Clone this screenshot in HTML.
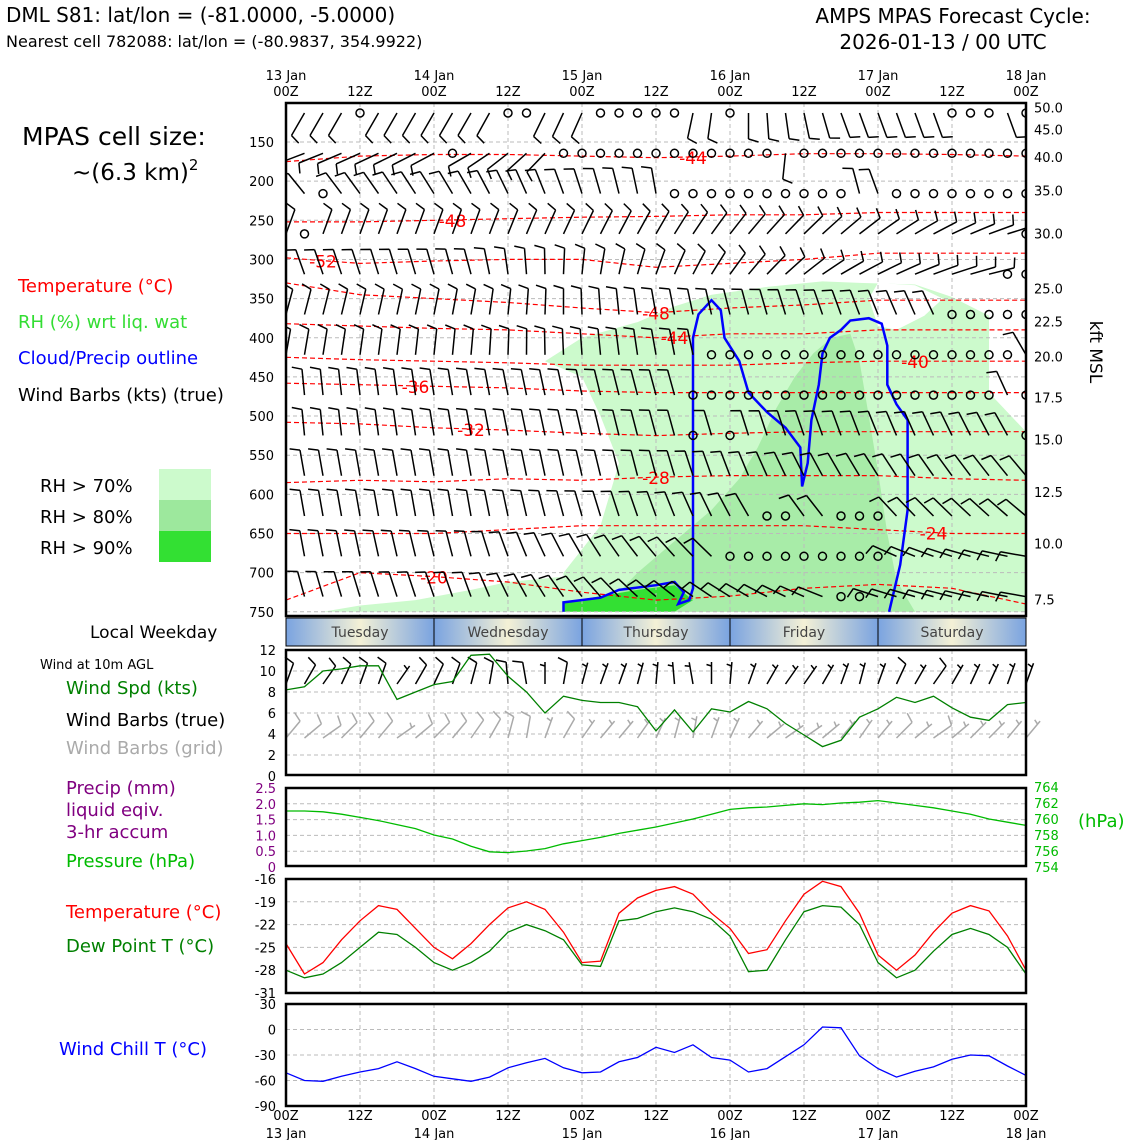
<!DOCTYPE html>
<html><head><meta charset="utf-8"><style>
html,body{margin:0;padding:0;background:#fff;}
svg{display:block;font-family:"DejaVu Sans","Liberation Sans",sans-serif;}
</style></head><body>
<svg id="chart" width="1140" height="1140" viewBox="0 0 1140 1140" xmlns="http://www.w3.org/2000/svg">
<defs>
<linearGradient id="dayg" x1="0" x2="1" y1="0" y2="0">
<stop offset="0" stop-color="#7aa3e0"/><stop offset="0.5" stop-color="#f4f1d6"/><stop offset="1" stop-color="#7aa3e0"/>
</linearGradient>
</defs>
<g>
<text x="6" y="22" font-size="20">DML S81: lat/lon = (-81.0000, -5.0000)</text>
<text x="6" y="47" font-size="16">Nearest cell 782088: lat/lon = (-80.9837, 354.9922)</text>
<text x="953" y="23" font-size="20" text-anchor="middle">AMPS MPAS Forecast Cycle:</text>
<text x="943" y="49" font-size="20" text-anchor="middle">2026-01-13 / 00 UTC</text>
</g>
<g font-size="18">
<text x="22" y="145" font-size="25">MPAS cell size:</text>
<text x="72" y="180" font-size="23">~(6.3 km)<tspan dy="-10" font-size="15">2</tspan></text>
<text x="18" y="292" fill="#ff0000">Temperature (°C)</text>
<text x="18" y="328" fill="#33dd33">RH (%) wrt liq. wat</text>
<text x="18" y="364" fill="#0000ff">Cloud/Precip outline</text>
<text x="18" y="401">Wind Barbs (kts) (true)</text>
<text x="40" y="492">RH &gt; 70%</text>
<text x="40" y="523">RH &gt; 80%</text>
<text x="40" y="554">RH &gt; 90%</text>
<rect x="159" y="469" width="52" height="31" fill="#ccfacc"/>
<rect x="159" y="500" width="52" height="31" fill="#9de89d"/>
<rect x="159" y="531" width="52" height="31" fill="#33e033"/>
<text x="90" y="638" font-size="17">Local Weekday</text>
<text x="40" y="669" font-size="13">Wind at 10m AGL</text>
<text x="66" y="694" fill="#008000">Wind Spd (kts)</text>
<text x="66" y="726">Wind Barbs (true)</text>
<text x="66" y="754" fill="#aaaaaa">Wind Barbs (grid)</text>
<text x="66" y="794" fill="#800080">Precip (mm)</text>
<text x="66" y="816" fill="#800080">liquid eqiv.</text>
<text x="66" y="838" fill="#800080">3-hr accum</text>
<text x="66" y="867" fill="#00bb00">Pressure (hPa)</text>
<text x="66" y="918" fill="#ff0000">Temperature (°C)</text>
<text x="66" y="952" fill="#008000">Dew Point T (°C)</text>
<text x="59" y="1055" fill="#0000ff">Wind Chill T (°C)</text>
<text x="1078" y="827" fill="#00bb00">(hPa)</text>
<text x="1090" y="352" font-size="17" transform="rotate(90 1090 352)" text-anchor="middle">kft MSL</text>
</g>
<g id="main"></g>
<g id="panels"></g>
</svg>
<script>
// ---------- data ----------
const times = ["00Z","12Z","00Z","12Z","00Z","12Z","00Z","12Z","00Z","12Z","00Z"];
const dates = ["13 Jan","","14 Jan","","15 Jan","","16 Jan","","17 Jan","","18 Jan"];
const weekdays = ["Tuesday","Wednesday","Thursday","Friday","Saturday"];
const pLevels = [150,200,250,300,350,400,450,500,550,600,650,700,750];
const kftLabels = ["50.0","45.0","40.0","35.0","30.0","25.0","22.5","20.0","17.5","15.0","12.5","10.0","7.5"];
const kftPress = [106,134,169,212,267,337,379,424,476,530,597,663,734];
const windSpd = [8.2,8.5,10,10.2,10.5,10.5,7.3,8,8.7,9,11.5,11.6,9.5,8,6,7.6,7.2,7,7,6.6,4.3,6.3,4.2,6.4,6.1,7.1,6.4,5,3.9,2.8,3.4,5.6,6.4,7.5,7,7.6,6.5,5.6,5.3,6.8,7];
const pressure = [761,761,760.9,760.6,760.2,759.8,759.3,758.8,758,757.5,756.6,755.9,755.8,756,756.3,756.9,757.3,757.7,758.2,758.6,759,759.5,760,760.6,761.2,761.4,761.5,761.7,761.9,761.8,762,762.1,762.3,762,761.7,761.4,761,760.6,760,759.6,759.2];
const precip = [0,0,0,0,0,0,0,0,0,0,0,0,0,0,0,0,0,0,0,0,0,0,0.03,0.03,0,0,0,0,0,0,0,0,0,0,0,0,0,0,0,0,0];
const tempC = [-24.5,-28.5,-27,-24,-21.5,-19.5,-20,-22.5,-25,-26.5,-24.5,-22,-19.8,-19,-20,-23,-27,-26.8,-20.5,-18.5,-17.5,-17,-18,-20.5,-22.5,-25.8,-25.3,-21.5,-18,-16.3,-17,-20.5,-26,-28,-26,-23,-20.5,-19.5,-20.2,-23.5,-28];
const dewC = [-28,-29,-28.5,-27,-25,-23,-23.3,-25,-27,-28,-27,-25.5,-23,-22,-22.8,-24,-27.3,-27.5,-21.5,-21.2,-20.3,-19.8,-20.3,-21.3,-23.5,-28.2,-28,-24,-20.3,-19.5,-19.7,-22,-27,-29,-28,-25.5,-23.3,-22.5,-23.3,-25,-28.5];
const windChill = [-51,-60,-61,-55,-50,-46,-38,-46,-55,-58,-61,-56,-45,-39,-34,-45,-51,-50,-38,-33,-21,-27,-18,-33,-36,-50,-46,-32,-18,3,2,-31,-46,-56,-49,-44,-35,-30,-31,-43,-54];
const contourVals = [-44,-48,-52,-48,-44,-40,-36,-32,-28,-24,-20];
const contourP = [
 [175,168,166,166,168,170,168,165,165,166,168],
 [252,252,250,248,246,245,243,243,240,240,240],
 [298,305,302,300,300,310,305,300,292,292,292],
 [330,345,350,355,362,368,362,358,352,352,352],
 [382,385,388,390,395,400,395,395,390,390,390],
 [425,428,430,432,435,435,435,432,430,430,430],
 [458,460,462,464,468,470,470,470,470,470,470],
 [508,510,515,518,522,525,522,520,520,520,520],
 [585,582,584,580,582,578,576,576,576,580,582],
 [650,650,650,645,640,640,640,640,645,650,650],
 [735,700,705,712,725,735,730,720,715,720,740]
];
const contourLabelIdx = [22,9,2,20,21,34,7,10,20,35,8];
const rh70 = [[15,750],[15,700],[17,640],[18,560],[17,500],[16,450],[14,430],[16,400],[19,380],[21,360],[23,345],[26,335],[29,328],[31,330],[34,332],[36,348],[38,372],[38,470],[40,520],[40,750]];
const rh70b = [[2,750],[4,742],[7,735],[10,722],[12,712],[15,705],[15,750]];
const rh80 = [[17,750],[19,700],[21,660],[23,620],[24.5,580],[25.5,540],[26.5,490],[27.5,450],[28.5,420],[29.5,400],[30.5,395],[31,430],[31.5,500],[32,570],[32.5,650],[33,710],[34,750]];
const rh90 = [[15,750],[15,738],[17,730],[19,722],[21,716],[22,735],[21,750]];
const cloudLine = [[15,750],[15,738],[17,732],[18,722],[20,716],[21,712],[21.5,725],[21.2,740],[21.8,735],[22,720],[22,640],[22,520],[22,400],[22.3,370],[23,352],[23.5,365],[23.7,400],[24.5,430],[25,470],[26,495],[27,515],[27.8,540],[27.9,590],[28.2,560],[28.4,505],[28.8,460],[29,420],[29.4,400],[30,390],[30.5,378],[31.5,375],[32.2,382],[32.5,410],[32.5,460],[33,485],[33.6,505],[33.6,620],[33.2,690],[32.6,750]];
const barbRowAngle = [
 [210,210,200,160,160],[250,240,200,180,180],[320,330,350,350,300],[20,20,30,50,75],
 [340,345,20,60,80],[15,10,350,340,330],[10,5,350,340,330],[355,350,345,340,335],
 [355,350,345,340,330],[350,350,345,330,320],[350,350,340,320,310],[350,345,320,300,280],[345,340,310,290,280]];
const barbRowSpeed = [10,10,10,10,10,10,10,10,10,10,10,10,10];
const calm = [
 [4,12,13,17,18,19,20,21,24,36,37,38,40],
 [9,15,16,17,18,19,20,21,22,23,24,25,26,28,29,30,31,32,33,34,35,36,37,38,39,40],
 [2,21,22,23,24,25,26,27,28,29,30,33,34,35,36,37,38,39,40],
 [1,40],[39,40],[36,37,38,39,40],
 [23,24,25,26,27,28,29,30,31,32,33,34,35,36,37,38,39],
 [22,23,24,25,26,27,28,29,30,31,32,33,34,35,36,37,38,40],
 [22,24,40],[],[26,27,30,31,32],[24,25,26,27,28,29,30,31,32],[30,31]];
const sfcBarbAngle = [200,210,215,205,200,200,215,210,205,200,195,190,175,170,180,190,195,200,200,195,185,175,170,180,185,200,210,215,215,210,200,195,200,205,210,215,210,205,205,200,200];
// ---------- axes ----------
const NS="http://www.w3.org/2000/svg";
const X0=286,X1=1026;
const xT = i => X0 + i*(X1-X0)/40;
const yP = p => 142 + (p-150)*0.783;
const yWind = v => 776 - v*(126/12);
const yPres = v => 867 - (v-754)*8;
const yPrec = v => 867 - v*(79/2.5);
const yTemp = v => 879 + (-16-v)*(114/15);
const yChill = v => 1004 + (30-v)*(102/120);
function mk(parent,tag,attrs){const e=document.createElementNS(NS,tag);for(const k in attrs)e.setAttribute(k,attrs[k]);parent.appendChild(e);return e;}
const main=document.getElementById('main');
const panels=document.getElementById('panels');
const pts=(arr,fx,fy)=>arr.map(a=>fx(a[0]).toFixed(1)+","+fy(a[1]).toFixed(1)).join(" ");
const cp=mk(document.querySelector('defs'),'clipPath',{id:'mclip'});
mk(cp,'rect',{x:X0,y:103,width:X1-X0,height:513});
const mg=mk(main,'g',{'clip-path':'url(#mclip)'});


[[rh70,'#ccfacc','rh70-region'],[rh70b,'#ccfacc','rh70-region-low'],[rh80,'#a8eca8','rh80-region'],[rh90,'#33e033','rh90-region']].forEach(r=>{
 const e=mk(mg,'polygon',{points:pts(r[0],xT,yP),fill:r[1]});
 
 
});
const hole=mk(mg,'polygon',{points:pts([[32,330],[34,333],[35.5,350],[34.5,372],[33,390],[32,385],[31.5,350]],xT,yP),fill:'#fff'});


for(let i=4;i<40;i+=4){const l=mk(mg,'line',{x1:xT(i),x2:xT(i),y1:103,y2:616,stroke:'#bbb','stroke-dasharray':'4,3','stroke-width':1});
 
 }
pLevels.forEach(p=>{const l=mk(mg,'line',{x1:X0,x2:X1,y1:yP(p),y2:yP(p),stroke:'#bbb','stroke-dasharray':'4,3','stroke-width':1});
 
 });
contourP.forEach((row,k)=>{
 const arr=row.map((p,j)=>[j*4,p]);
 const e=mk(mg,'polyline',{points:pts(arr,xT,yP),fill:'none',stroke:'#ff0000','stroke-width':1.2,'stroke-dasharray':'5,3'});
 
 
 const li=contourLabelIdx[k];const j=Math.min(9,Math.floor(li/4));const f=(li-j*4)/4;
 const p=row[j]+(row[j+1]-row[j])*f;
 const t=mk(mg,'text',{x:xT(li),y:yP(p)+7,fill:'#ff0000','font-size':17,'text-anchor':'middle'});
 t.textContent=contourVals[k];
 
 
});
const cl=mk(mg,'polyline',{points:pts(cloudLine,xT,yP),fill:'none',stroke:'#0000ff','stroke-width':2.5});


function barb(g,x,y,ang,spd,len,color){
 const r=ang*Math.PI/180;const dx=Math.sin(r),dy=-Math.cos(r);
 const ex=x+dx*len,ey=y+dy*len;
 let d=`M${x},${y}L${ex.toFixed(1)},${ey.toFixed(1)}`;
 const bx=dy,by=-dx;
 let n=Math.floor(spd/10),h=(spd%10)>=5;
 let pos=0;
 for(let i=0;i<n;i++){const sx=ex-dx*pos,sy=ey-dy*pos;d+=`M${sx.toFixed(1)},${sy.toFixed(1)}l${(bx*10+dx*3).toFixed(1)},${(by*10+dy*3).toFixed(1)}`;pos+=4;}
 if(h){if(n==0)pos=4;const sx=ex-dx*pos,sy=ey-dy*pos;d+=`M${sx.toFixed(1)},${sy.toFixed(1)}l${(bx*5+dx*1.5).toFixed(1)},${(by*5+dy*1.5).toFixed(1)}`;}
 return mk(g,'path',{d:d,stroke:color,'stroke-width':1.5,fill:'none'});
}
const bg=mk(mg,'g',{});


for(let r=0;r<13;r++){
 const y=113+r*40.3;
 for(let i=0;i<=40;i++){
  const cx=xT(i);
  if(calm[r].includes(i)){const c=mk(bg,'circle',{cx:cx,cy:y,r:4,fill:'none',stroke:'#000','stroke-width':1.5});
   
   continue;}
  const a=barbRowAngle[r];const j=Math.min(3,Math.floor(i/10));const f=(i-j*10)/10;
  let d1=a[j],d2=a[j+1];if(d2-d1>180)d2-=360;if(d1-d2>180)d2+=360;
  const ang=d1+(d2-d1)*f;
  const e=barb(bg,cx,y,ang,barbRowSpeed[r],26,'#000');
  
  
 }
}
const fr=mk(main,'rect',{x:X0,y:103,width:X1-X0,height:513,fill:'none',stroke:'#000','stroke-width':2.5});


pLevels.forEach(p=>{const t=mk(main,'text',{x:274,y:yP(p)+5,'font-size':13,'text-anchor':'end'});t.textContent=p;
 
 });
kftLabels.forEach((s,k)=>{const t=mk(main,'text',{x:1034,y:yP(kftPress[k])+5,'font-size':13});t.textContent=s;
 
 });
times.forEach((s,k)=>{
 const x=xT(k*4);
 const t=mk(main,'text',{x:x,y:96,'font-size':13,'text-anchor':'middle'});t.textContent=s;
 
 
 if(dates[k]){const d=mk(main,'text',{x:x,y:80,'font-size':13,'text-anchor':'middle'});d.textContent=dates[k];
  
  }
 const bt=mk(main,'text',{x:x,y:1120,'font-size':13,'text-anchor':'middle'});bt.textContent=s;
 
 
 if(dates[k]){const d=mk(main,'text',{x:x,y:1138,'font-size':13,'text-anchor':'middle'});d.textContent=dates[k];
  
  }
});
weekdays.forEach((w,k)=>{
 const x=xT(k*8);
 const r=mk(panels,'rect',{x:x,y:618,width:xT(8)-xT(0),height:28,fill:'url(#dayg)',stroke:'#000','stroke-width':1});
 
 
 const t=mk(panels,'text',{x:x+74,y:637,'font-size':14,'text-anchor':'middle',fill:'#444'});t.textContent=w;
 
 
});
function panel(y0,y1,name,ticks,fy,fmt,color,right){
 const g=mk(panels,'g',{});
 
 
 for(let i=4;i<40;i+=4){mk(g,'line',{x1:xT(i),x2:xT(i),y1:y0,y2:y1,stroke:'#bbb','stroke-dasharray':'4,3'});}
 ticks.forEach(v=>{const y=fy(v);if(y>y0+2&&y<y1-2)mk(g,'line',{x1:X0,x2:X1,y1:y,y2:y,stroke:'#bbb','stroke-dasharray':'4,3'});
  const t=mk(g,'text',{x:right?1034:276,y:y+5,'font-size':13,'text-anchor':right?'start':'end',fill:color});t.textContent=fmt(v);
  
  });
 return g;
}
function line(g,vals,fy,color,name){const e=mk(g,'polyline',{points:vals.map((v,i)=>xT(i).toFixed(1)+","+fy(v).toFixed(1)).join(" "),fill:'none',stroke:color,'stroke-width':1.3});
 
 }
const wg=panel(650,775,'wind-panel',[0,2,4,6,8,10,12],yWind,v=>v,'#000');
for(let i=0;i<=40;i++){
 const e=barb(wg,xT(i),684,(sfcBarbAngle[i]+180)%360,windSpd[i]>=7.5?10:5,22,'#000');
 
 
 const g2=barb(wg,xT(i),738,(sfcBarbAngle[i]+200)%360,windSpd[i]>=7.5?10:5,22,'#aaa');
 
 
}
line(wg,windSpd,yWind,'#008000','wind-speed-line');
const pg=panel(788,866,'pressure-panel',[0,0.5,1,1.5,2,2.5],yPrec,v=>v==0?'0':v.toFixed(1),'#800080');
[754,756,758,760,762,764].forEach(v=>{const t=mk(pg,'text',{x:1034,y:yPres(v)+5,'font-size':13,fill:'#00bb00'});t.textContent=v;
 
 });
precip.forEach((v,i)=>{if(v>0){const r=mk(pg,'rect',{x:xT(i)-9,y:yPrec(v),width:18.5,height:yPrec(0)-yPrec(v),fill:'#800080'});
 
 }});
line(pg,pressure,yPres,'#00bb00','pressure-line');
const tg=panel(879,993,'temperature-panel',[-16,-19,-22,-25,-28,-31],yTemp,v=>v,'#000');
line(tg,tempC,yTemp,'#ff0000','temperature-line');
line(tg,dewC,yTemp,'#008000','dewpoint-line');
const cg=panel(1004,1106,'wind-chill-panel',[30,0,-30,-60,-90],yChill,v=>v,'#000');
line(cg,windChill,yChill,'#0000ff','wind-chill-line');
[[650,775],[788,866],[879,993],[1004,1106]].forEach(b=>{const r=mk(panels,'rect',{x:X0,y:b[0],width:X1-X0,height:b[1]-b[0],fill:'none',stroke:'#000','stroke-width':2.5});
 
 });
</script>
</body></html>
